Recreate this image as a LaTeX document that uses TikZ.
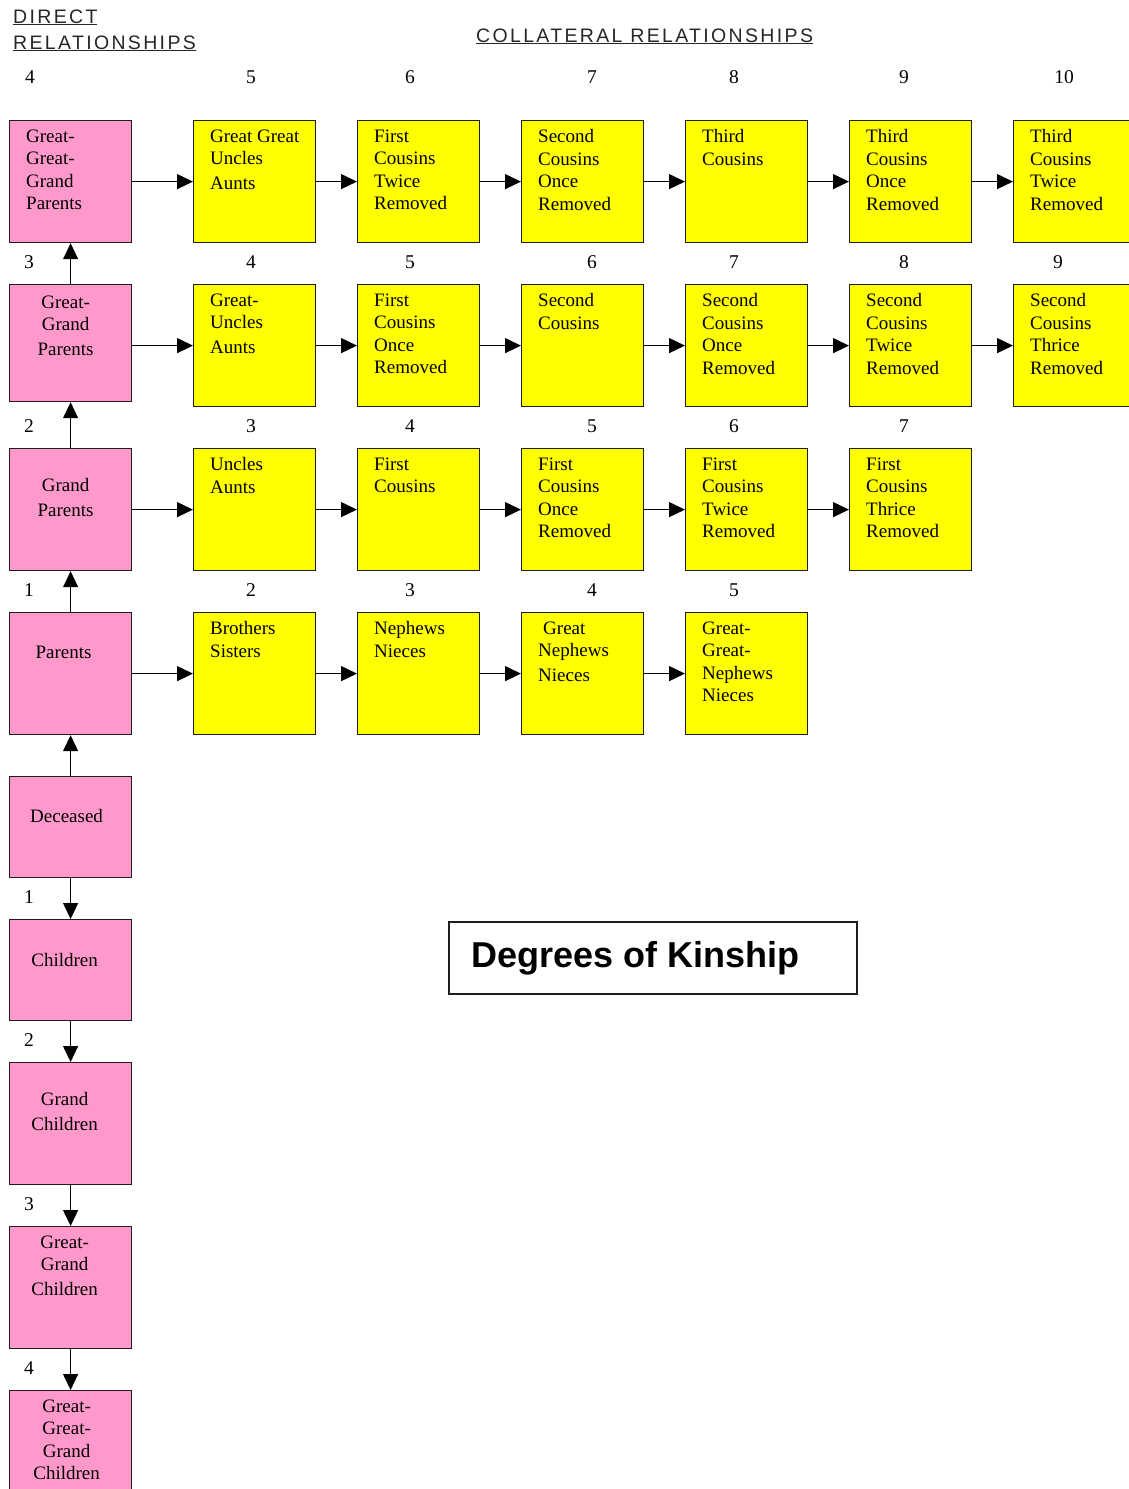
\documentclass[tikz,border=0pt]{standalone}
\usepackage{fontspec}
\setmainfont{Liberation Serif}
\newfontfamily\headfont[LetterSpace=12]{Liberation Sans}
\newfontfamily\titlefont{Liberation Sans}
\usetikzlibrary{arrows.meta,positioning}
\definecolor{kinpink}{RGB}{255,153,204}
\definecolor{kinyellow}{RGB}{255,255,0}
\definecolor{kinline}{RGB}{30,30,30}
\tikzset{
  kinbox/.style={draw=kinline,line width=1.2pt,anchor=north west,minimum width=122pt,minimum height=122pt,inner sep=0pt},
  direct/.style={kinbox,fill=kinpink},
  collat/.style={kinbox,fill=kinyellow},
  boxtext/.style={anchor=north west,align=left,inner sep=0pt,font=\fontsize{19}{22.5}\selectfont},
  pinktext/.style={anchor=north,align=center,inner sep=0pt,font=\fontsize{19}{22.5}\selectfont},
  degree/.style={inner sep=0pt,font=\fontsize{19.5}{22}\selectfont},
  heading/.style={anchor=base west,inner sep=0pt,text=black!85,font=\headfont\fontsize{19.5}{20}\selectfont},
  kinarrow/.style={line width=1.3pt,-{Triangle[length=16pt,width=15pt]}},
}

\begin{document}
\begin{tikzpicture}[x=1pt,y=-1pt]
    \useasboundingbox (0,0) rectangle (1129,1489);
    \clip (0,0) rectangle (1129,1489);
    % headings
    \node[heading] (hdir) at (13,23) {\underline{DIRECT}};
    \node[heading] (hrel) at (13,49) {\underline{RELATIONSHIPS}};
    \node[heading] (hcol) at (476,42) {\underline{COLLATERAL RELATIONSHIPS}};
    % direct line
    \node[direct] (gggpar) at (9,120) {};
    \node[direct,minimum height=117pt] (ggpar) at (9,284) {};
    \node[direct] (gpar) at (9,448) {};
    \node[direct] (par) at (9,612) {};
    \node[direct,minimum height=101pt] (dec) at (9,776) {};
    \node[direct,minimum height=101pt] (chi) at (9,919) {};
    \node[direct] (gchi) at (9,1062) {};
    \node[direct] (ggchi) at (9,1226) {};
    \node[direct] (gggchi) at (9,1390) {};
    \node[boxtext] (tgggpar) at ([xshift=17pt,yshift=-9.5pt]gggpar.north west) {Great-\\Great-\\Grand\\Parents};
    \node[pinktext] (tggpar) at ([xshift=-5pt,yshift=-11.5pt]ggpar.north) {Great-\\Grand\\[2pt]Parents};
    \node[pinktext] (tgpar) at ([xshift=-5pt,yshift=-30.5pt]gpar.north) {Grand\\[2pt]Parents};
    \node[pinktext] (tpar) at ([xshift=-7pt,yshift=-33.5pt]par.north) {Parents};
    \node[pinktext] (tdec) at ([xshift=-4pt,yshift=-33.5pt]dec.north) {Deceased};
    \node[pinktext] (tchi) at ([xshift=-6pt,yshift=-34.5pt]chi.north) {Children};
    \node[pinktext] (tgchi) at ([xshift=-6pt,yshift=-30.5pt]gchi.north) {Grand\\[2pt]Children};
    \node[pinktext] (tggchi) at ([xshift=-6pt,yshift=-9.5pt]ggchi.north) {Great-\\Grand\\[2pt]Children};
    \node[pinktext] (tgggchi) at ([xshift=-4pt,yshift=-9.5pt]gggchi.north) {Great-\\Great-\\Grand\\Children};
    % collateral rows
    \node[collat] (y11) at (193,120) {};
    \node[collat] (y12) at (357,120) {};
    \node[collat] (y13) at (521,120) {};
    \node[collat] (y14) at (685,120) {};
    \node[collat] (y15) at (849,120) {};
    \node[collat] (y16) at (1013,120) {};
    \node[collat] (y21) at (193,284) {};
    \node[collat] (y22) at (357,284) {};
    \node[collat] (y23) at (521,284) {};
    \node[collat] (y24) at (685,284) {};
    \node[collat] (y25) at (849,284) {};
    \node[collat] (y26) at (1013,284) {};
    \node[collat] (y31) at (193,448) {};
    \node[collat] (y32) at (357,448) {};
    \node[collat] (y33) at (521,448) {};
    \node[collat] (y34) at (685,448) {};
    \node[collat] (y35) at (849,448) {};
    \node[collat] (y41) at (193,612) {};
    \node[collat] (y42) at (357,612) {};
    \node[collat] (y43) at (521,612) {};
    \node[collat] (y44) at (685,612) {};
    \node[boxtext] (t11) at ([xshift=17pt,yshift=-9.5pt]y11.north west) {Great Great\\Uncles\\[2pt]Aunts};
    \node[boxtext] (t12) at ([xshift=17pt,yshift=-9.5pt]y12.north west) {First\\Cousins\\Twice\\Removed};
    \node[boxtext] (t13) at ([xshift=17pt,yshift=-9.5pt]y13.north west) {Second\\Cousins\\Once\\Removed};
    \node[boxtext] (t14) at ([xshift=17pt,yshift=-9.5pt]y14.north west) {Third\\Cousins};
    \node[boxtext] (t15) at ([xshift=17pt,yshift=-9.5pt]y15.north west) {Third\\Cousins\\Once\\Removed};
    \node[boxtext] (t16) at ([xshift=17pt,yshift=-9.5pt]y16.north west) {Third\\Cousins\\Twice\\Removed};
    \node[boxtext] (t21) at ([xshift=17pt,yshift=-9.5pt]y21.north west) {Great-\\Uncles\\[2pt]Aunts};
    \node[boxtext] (t22) at ([xshift=17pt,yshift=-9.5pt]y22.north west) {First\\Cousins\\Once\\Removed};
    \node[boxtext] (t23) at ([xshift=17pt,yshift=-9.5pt]y23.north west) {Second\\Cousins};
    \node[boxtext] (t24) at ([xshift=17pt,yshift=-9.5pt]y24.north west) {Second\\Cousins\\Once\\Removed};
    \node[boxtext] (t25) at ([xshift=17pt,yshift=-9.5pt]y25.north west) {Second\\Cousins\\Twice\\Removed};
    \node[boxtext] (t26) at ([xshift=17pt,yshift=-9.5pt]y26.north west) {Second\\Cousins\\Thrice\\Removed};
    \node[boxtext] (t31) at ([xshift=17pt,yshift=-9.5pt]y31.north west) {Uncles\\Aunts};
    \node[boxtext] (t32) at ([xshift=17pt,yshift=-9.5pt]y32.north west) {First\\Cousins};
    \node[boxtext] (t33) at ([xshift=17pt,yshift=-9.5pt]y33.north west) {First\\Cousins\\Once\\Removed};
    \node[boxtext] (t34) at ([xshift=17pt,yshift=-9.5pt]y34.north west) {First\\Cousins\\Twice\\Removed};
    \node[boxtext] (t35) at ([xshift=17pt,yshift=-9.5pt]y35.north west) {First\\Cousins\\Thrice\\Removed};
    \node[boxtext] (t41) at ([xshift=17pt,yshift=-9.5pt]y41.north west) {Brothers\\Sisters};
    \node[boxtext] (t42) at ([xshift=17pt,yshift=-9.5pt]y42.north west) {Nephews\\Nieces};
    \node[boxtext] (t43) at ([xshift=17pt,yshift=-9.5pt]y43.north west) {\hspace*{5pt}Great\\Nephews\\[2pt]Nieces};
    \node[boxtext] (t44) at ([xshift=17pt,yshift=-9.5pt]y44.north west) {Great-\\Great-\\Nephews\\Nieces};
    % arrows
    \draw[kinarrow] (gggpar.east) -- (y11.west);
    \draw[kinarrow] (y11.east) -- (y12.west);
    \draw[kinarrow] (y12.east) -- (y13.west);
    \draw[kinarrow] (y13.east) -- (y14.west);
    \draw[kinarrow] (y14.east) -- (y15.west);
    \draw[kinarrow] (y15.east) -- (y16.west);
    \draw[kinarrow] (ggpar.east |- y21.west) -- (y21.west);
    \draw[kinarrow] (y21.east) -- (y22.west);
    \draw[kinarrow] (y22.east) -- (y23.west);
    \draw[kinarrow] (y23.east) -- (y24.west);
    \draw[kinarrow] (y24.east) -- (y25.west);
    \draw[kinarrow] (y25.east) -- (y26.west);
    \draw[kinarrow] (gpar.east) -- (y31.west);
    \draw[kinarrow] (y31.east) -- (y32.west);
    \draw[kinarrow] (y32.east) -- (y33.west);
    \draw[kinarrow] (y33.east) -- (y34.west);
    \draw[kinarrow] (y34.east) -- (y35.west);
    \draw[kinarrow] (par.east) -- (y41.west);
    \draw[kinarrow] (y41.east) -- (y42.west);
    \draw[kinarrow] (y42.east) -- (y43.west);
    \draw[kinarrow] (y43.east) -- (y44.west);
    \draw[kinarrow] (ggpar.north) -- (gggpar.south);
    \draw[kinarrow] (gpar.north) -- (ggpar.south);
    \draw[kinarrow] (par.north) -- (gpar.south);
    \draw[kinarrow] (dec.north) -- (par.south);
    \draw[kinarrow] (dec.south) -- (chi.north);
    \draw[kinarrow] (chi.south) -- (gchi.north);
    \draw[kinarrow] (gchi.south) -- (ggchi.north);
    \draw[kinarrow] (ggchi.south) -- (gggchi.north);
    % degree numbers
    \node[degree] (n10) at (30,77) {4};
    \node[degree] (n11) at (251,77) {5};
    \node[degree] (n12) at (410,77) {6};
    \node[degree] (n13) at (592,77) {7};
    \node[degree] (n14) at (734,77) {8};
    \node[degree] (n15) at (904,77) {9};
    \node[degree] (n16) at (1064,77) {10};
    \node[degree] (n20) at (29,262) {3};
    \node[degree] (n21) at (251,262) {4};
    \node[degree] (n22) at (410,262) {5};
    \node[degree] (n23) at (592,262) {6};
    \node[degree] (n24) at (734,262) {7};
    \node[degree] (n25) at (904,262) {8};
    \node[degree] (n26) at (1058,262) {9};
    \node[degree] (n30) at (29,426) {2};
    \node[degree] (n31) at (251,426) {3};
    \node[degree] (n32) at (410,426) {4};
    \node[degree] (n33) at (592,426) {5};
    \node[degree] (n34) at (734,426) {6};
    \node[degree] (n35) at (904,426) {7};
    \node[degree] (n40) at (29,590) {1};
    \node[degree] (n41) at (251,590) {2};
    \node[degree] (n42) at (410,590) {3};
    \node[degree] (n43) at (592,590) {4};
    \node[degree] (n44) at (734,590) {5};
    \node[degree] (n51) at (29,897) {1};
    \node[degree] (n52) at (29,1040) {2};
    \node[degree] (n53) at (29,1204) {3};
    \node[degree] (n54) at (29,1368) {4};
    % title
    \node[draw=kinline,line width=1.2pt,minimum width=408pt,minimum height=72pt,inner sep=0pt] (titlebox) at (653,958) {};
    \node[anchor=base west,inner sep=0pt,font=\titlefont\bfseries\fontsize{36}{40}\selectfont] (title) at (471,967) {Degrees of Kinship};
\end{tikzpicture}
\end{document}
